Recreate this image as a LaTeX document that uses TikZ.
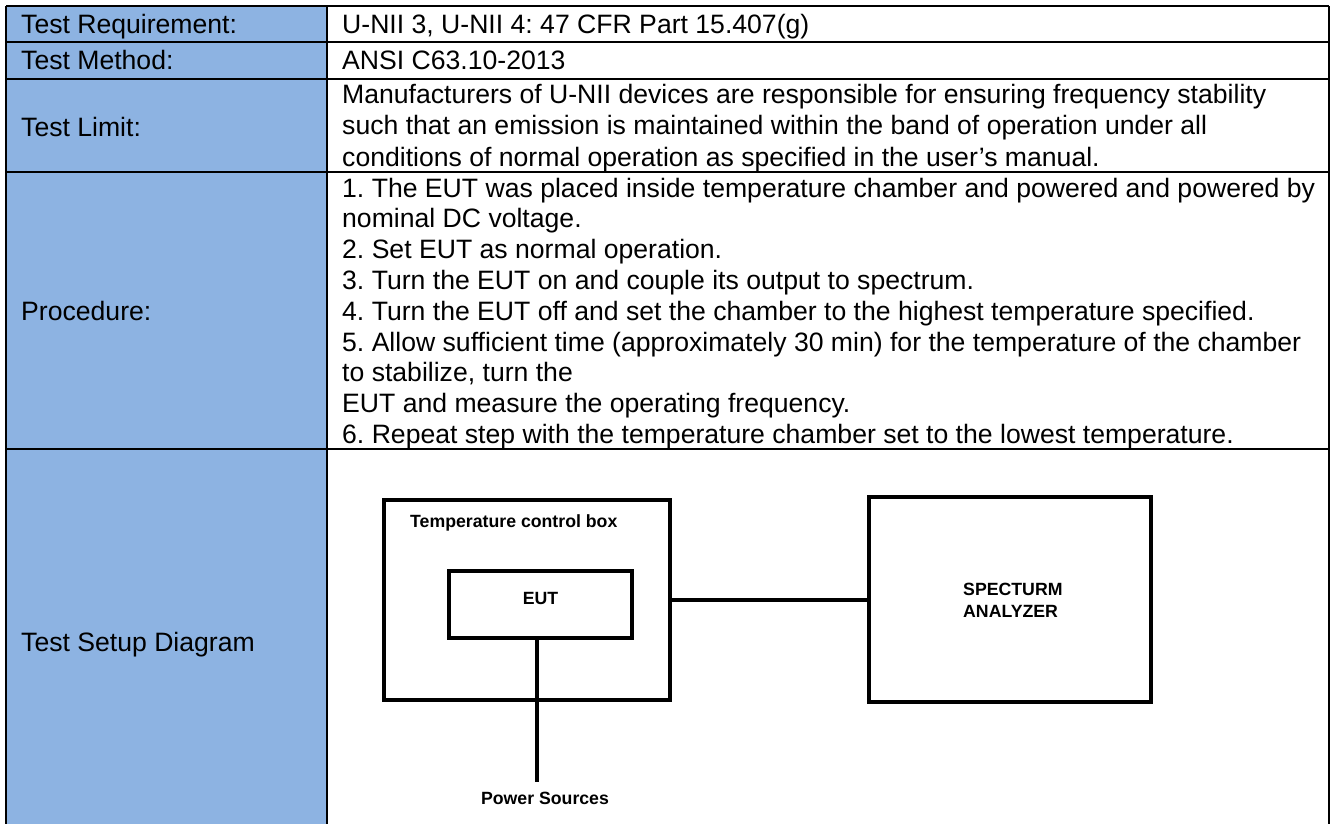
\documentclass[tikz,border=0pt]{standalone}
\usepackage{fontspec}
\setmainfont{Liberation Sans}
\definecolor{hdr}{RGB}{141,179,226}
\frenchspacing
\begin{document}
\frenchspacing
\begin{tikzpicture}[x=1pt,y=-1pt,
  cell/.style={anchor=base west, inner sep=0pt, font=\fontsize{26.6}{31}\selectfont},
  rule/.style={line width=2pt},
  frame/.style={line width=2.4pt},
  dbox/.style={draw, line width=4.3pt, inner sep=0pt},
  dtxt/.style={inner sep=0pt, font=\bfseries\fontsize{17.7}{22}\selectfont},
  wire/.style={line width=4.3pt}]
\useasboundingbox (0,0) rectangle (1330,824);
\fill[white] (0,0) rectangle (1330,824);
\fill[hdr] (6,6) rectangle (327,824);
% table rules
\draw[frame] (6,6) -- (1329,6);
\foreach \yy in {42,79,172,449} \draw[rule] (6,\yy) -- (1329,\yy);
\draw[frame] (6,6) -- (6,824);
\draw[rule] (327,6) -- (327,824);
\draw[frame] (1329,6) -- (1329,824);
% left labels
\node[cell] (l1) at (21,34) {Test Requirement:};
\node[cell] (l2) at (21,70) {Test Method:};
\node[cell] (l3) at (21,136) {Test Limit:};
\node[cell] (l4) at (21,320) {Procedure:};
\node[cell] (l5) at (21,651) {Test Setup Diagram};
% right contents
\node[cell] (r1) at (342,34) {U-NII 3, U-NII 4: 47 CFR Part 15.407(g)};
\node[cell] (r2) at (342,70) {ANSI C63.10-2013};
\node[cell] (r3a) at (342,104) {Manufacturers of U-NII devices are responsible for ensuring frequency stability};
\node[cell] (r3b) at (342,135) {such that an emission is maintained within the band of operation under all};
\node[cell] (r3c) at (342,166) {conditions of normal operation as specified in the user’s manual.};
\node[cell] (p1) at (342,197) {1. The EUT was placed inside temperature chamber and powered and powered by};
\node[cell] (p2) at (342,227.8) {nominal DC voltage.};
\node[cell] (p3) at (342,258.6) {2. Set EUT as normal operation.};
\node[cell] (p4) at (342,289.4) {3. Turn the EUT on and couple its output to spectrum.};
\node[cell] (p5) at (342,320.2) {4. Turn the EUT off and set the chamber to the highest temperature specified.};
\node[cell] (p6) at (342,351) {5. Allow sufficient time (approximately 30 min) for the temperature of the chamber};
\node[cell] (p7) at (342,381.8) {to stabilize, turn the};
\node[cell] (p8) at (342,412.6) {EUT and measure the operating frequency.};
\node[cell] (p9) at (342,443.4) {6. Repeat step with the temperature chamber set to the lowest temperature.};
% diagram
\node[dbox, minimum width=286pt, minimum height=200pt] (tcb) at (527,600) {};
\node[dbox, minimum width=183pt, minimum height=67pt] (eut) at (540.5,604.5) {};
\node[dbox, minimum width=282pt, minimum height=205pt] (sa) at (1010,599.5) {};
\node[dtxt, anchor=base west] (tcbl) at (410,527) {Temperature control box};
\node[dtxt, anchor=base] (eutl) at (540.5,604) {EUT};
\node[dtxt, anchor=base west] (sal1) at (963,595.5) {SPECTURM};
\node[dtxt, anchor=base west] (sal2) at (963,617.5) {ANALYZER};
\coordinate (pwr) at (537,782);
\node[dtxt, anchor=base] (pwrl) at (545,804) {Power Sources};
\draw[wire] (tcb.east) -- (tcb.east -| sa.west);
\draw[wire] (eut.south -| pwr) -- (pwr);
\end{tikzpicture}
\end{document}
